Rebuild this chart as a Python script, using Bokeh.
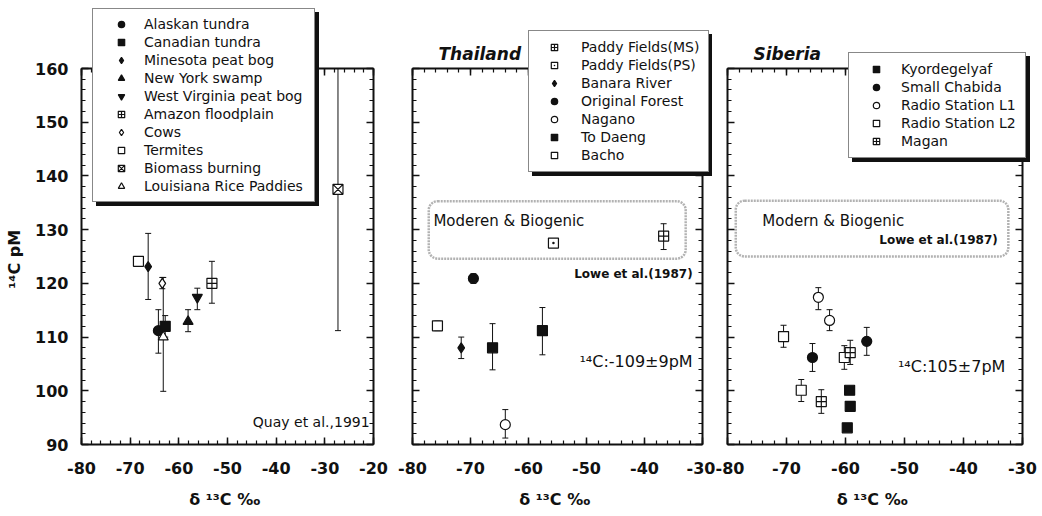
from bokeh.plotting import figure
from bokeh.models import (Whisker, ColumnDataSource, Legend, LegendItem, LinearAxis,
                          SingleIntervalTicker, Range1d, BoxAnnotation, Label,
                          CustomJSTickFormatter, TeeHead, GridBox)
from bokeh.embed import file_html
from bokeh.resources import INLINE

# ---------------- data ----------------
# Panel 1: Quay et al., 1991
quay_series = ["Alaskan tundra", "Canadian tundra", "Minesota peat bog", "New York swamp",
               "West Virginia peat bog", "Amazon floodplain", "Cows", "Termites",
               "Biomass burning", "Louisiana Rice Paddies"]
quay_point_series = ["Termites", "Louisiana Rice Paddies", "Cows", "Minesota peat bog",
                     "Alaskan tundra", "Canadian tundra", "New York swamp",
                     "West Virginia peat bog", "Amazon floodplain", "Biomass burning"]
quay_d13c = [-68.3, -63.2, -63.4, -66.3, -64.2, -62.8, -58.1, -56.2, -53.2, -27.3]
quay_c14 = [124.1, 110.0, 120.0, 123.1, 111.2, 112.0, 112.9, 117.4, 120.0, 137.5]
quay_c14_low = [124.1, 99.9, 119.0, 117.0, 107.0, 110.0, 111.0, 115.1, 116.3, 111.2]
quay_c14_high = [124.1, 121.1, 121.1, 129.3, 115.1, 114.0, 115.1, 119.1, 124.1, 164.0]

# Panel 2: Thailand
thai_series = ["Paddy Fields(MS)", "Paddy Fields(PS)", "Banara River", "Original Forest",
               "Nagano", "To Daeng", "Bacho"]
thai_point_series = ["Paddy Fields(MS)", "Paddy Fields(PS)", "Banara River", "Original Forest",
                     "Nagano", "To Daeng", "To Daeng", "Bacho"]
thai_d13c = [-36.7, -55.7, -71.6, -69.5, -64.0, -66.2, -57.6, -75.7]
thai_c14 = [128.8, 127.5, 108.0, 120.9, 93.7, 108.0, 111.2, 112.1]
thai_c14_low = [126.3, 127.5, 106.0, 120.0, 91.2, 103.9, 106.7, 111.2]
thai_c14_high = [131.1, 127.5, 110.0, 121.8, 96.5, 112.5, 115.5, 113.0]

# Panel 3: Siberia
sib_series = ["Kyordegelyaf", "Small Chabida", "Radio Station L1", "Radio Station L2", "Magan"]
sib_point_series = ["Radio Station L2", "Radio Station L2", "Radio Station L2",
                    "Radio Station L1", "Radio Station L1", "Magan", "Magan",
                    "Small Chabida", "Small Chabida",
                    "Kyordegelyaf", "Kyordegelyaf", "Kyordegelyaf"]
sib_d13c = [-70.5, -67.5, -60.2, -64.6, -62.7, -59.2, -64.1, -65.6, -56.4, -59.3, -59.2, -59.7]
sib_c14 = [110.1, 100.1, 106.2, 117.4, 113.1, 107.1, 98.0, 106.2, 109.2, 100.1, 97.1, 93.1]
sib_c14_low = [108.1, 98.0, 104.0, 115.1, 111.2, 104.9, 95.8, 103.6, 106.6, 100.1, 97.1, 93.1]
sib_c14_high = [112.2, 102.1, 108.4, 119.2, 115.1, 109.4, 100.2, 108.8, 111.8, 100.1, 97.1, 93.1]

# ---------------- styles ----------------
INK = "#111111"
FONT = "DejaVu Sans"
MARKERS = {
    "Alaskan tundra": ("circle", True), "Canadian tundra": ("square", True),
    "Minesota peat bog": ("diamond", True), "New York swamp": ("triangle", True),
    "West Virginia peat bog": ("inverted_triangle", True),
    "Amazon floodplain": ("square_cross", False), "Cows": ("diamond", False),
    "Termites": ("square", False), "Biomass burning": ("square_x", False),
    "Louisiana Rice Paddies": ("triangle", False),
    "Paddy Fields(MS)": ("square_cross", False), "Paddy Fields(PS)": ("square_dot", False),
    "Banara River": ("diamond", True), "Original Forest": ("circle", True),
    "Nagano": ("circle", False), "To Daeng": ("square", True), "Bacho": ("square", False),
    "Kyordegelyaf": ("square", True), "Small Chabida": ("circle", True),
    "Radio Station L1": ("circle", False), "Radio Station L2": ("square", False),
    "Magan": ("square_cross", False),
}
H = 516
BT, BB = 68, 72          # top / bottom borders (frame from y=68 to y=444)


def style_axis(ax, show_labels):
    ax.ticker = SingleIntervalTicker(interval=10, num_minor_ticks=5)
    ax.axis_line_width = 2
    ax.axis_line_color = INK
    ax.major_tick_in = 7
    ax.major_tick_out = 0
    ax.minor_tick_in = 4
    ax.minor_tick_out = 0
    ax.major_tick_line_color = INK
    ax.minor_tick_line_color = INK
    ax.major_tick_line_width = 1.5
    ax.minor_tick_line_width = 1.2
    ax.major_label_text_font = FONT
    ax.major_label_text_font_size = "16px"
    ax.major_label_text_font_style = "bold"
    ax.major_label_text_color = INK
    if show_labels:
        ax.formatter = CustomJSTickFormatter(code="return Math.round(tick).toString()")
        ax.major_label_standoff = 13
    else:
        ax.formatter = CustomJSTickFormatter(code="return ''")
        ax.major_label_standoff = 0


def make_fig(width, bl, br, x_end, show_y_labels, title_text=None, title_offset=0):
    p = figure(width=width, height=H, x_range=Range1d(-80, x_end), y_range=Range1d(90, 160),
               output_backend="svg", toolbar_location=None,
               min_border_left=bl, min_border_right=br, min_border_top=BT, min_border_bottom=BB,
               background_fill_color="white", border_fill_color="white", outline_line_color=None)
    p.grid.visible = False
    style_axis(p.xaxis[0], True)
    p.xaxis[0].major_label_standoff = 17
    style_axis(p.yaxis[0], show_y_labels)
    p.xaxis.axis_label = "δ ¹³C  ‰"
    p.xaxis.axis_label_text_font = FONT
    p.xaxis.axis_label_text_font_size = "16px"
    p.xaxis.axis_label_text_font_style = "bold"
    p.xaxis.axis_label_text_color = INK
    p.xaxis.axis_label_standoff = 13
    if show_y_labels:
        p.yaxis.axis_label = "¹⁴C  pM"
        p.yaxis.axis_label_text_font = FONT
        p.yaxis.axis_label_text_font_size = "16px"
        p.yaxis.axis_label_text_font_style = "bold"
        p.yaxis.axis_label_text_color = INK
        p.yaxis.axis_label_standoff = 8
    for side in ("right", "above"):
        ax = LinearAxis()
        style_axis(ax, False)
        p.add_layout(ax, side)
    if title_text:
        p.title.text = title_text
        p.title.text_font = FONT
        p.title.text_font_size = "17px"
        p.title.text_font_style = "bold italic"
        p.title.text_color = INK
        p.title.align = "left"
        p.title.offset = title_offset
        p.title.standoff = 9
    return p


def draw_points(p, series, point_series, xs, ys, lows, highs):
    wx, wl, wh = [], [], []
    for s, x, lo, hi in zip(point_series, xs, lows, highs):
        if hi > lo:
            wx.append(x); wl.append(lo); wh.append(hi)
    wsrc = ColumnDataSource(dict(x=wx, lo=wl, hi=wh))
    w = Whisker(base="x", lower="lo", upper="hi", source=wsrc, dimension="height",
                line_color=INK, line_width=1, level="underlay",
                upper_head=TeeHead(size=6, line_color=INK, line_width=1),
                lower_head=TeeHead(size=6, line_color=INK, line_width=1))
    p.add_layout(w)
    for s in series:
        sx = [x for n, x in zip(point_series, xs) if n == s]
        sy = [y for n, y in zip(point_series, ys) if n == s]
        marker, filled = MARKERS[s]
        p.scatter(sx, sy, marker=marker, size=10, line_color=INK, line_width=1.2,
                  fill_color=INK if filled else "white")


def legend_layer(width, bl, br, series, point_series, xs, ys, shift_x, shift_y,
                 vx, vy, padding, glyph_width, standoff, label_w):
    """Transparent overlay canvas, shifted with CSS, carrying the boxed legend that
    overlaps the top edge of the frame in the original figure, plus its drop shadow."""
    q = figure(width=width, height=H, x_range=Range1d(-80, -20), y_range=Range1d(90, 160),
               x_axis_type=None, y_axis_type=None, output_backend="svg", toolbar_location=None,
               min_border_left=bl, min_border_right=br, min_border_top=BT, min_border_bottom=BB,
               outline_line_color=None, background_fill_color=None, border_fill_color=None)
    q.grid.visible = False
    renderers = []
    for s in series:
        sx = [x for n, x in zip(point_series, xs) if n == s]
        sy = [y for n, y in zip(point_series, ys) if n == s]
        marker, filled = MARKERS[s]
        r = q.scatter(sx, sy, marker=marker, size=10, line_color=INK, line_width=1.2,
                      fill_color=INK if filled else "white")
        r.visible = False
        renderers.append((s, r))
    common = dict(padding=padding, spacing=2, label_height=16, label_width=label_w,
                  glyph_height=16, glyph_width=glyph_width, label_standoff=standoff,
                  margin=0, label_text_font=FONT, label_text_font_size="14px")
    # drop shadow: an identically sized box, offset 4 px right and down
    shadow = Legend(items=[LegendItem(label=" ", renderers=[r]) for s, r in renderers],
                    location=(vx + 4, vy - 4), background_fill_color=INK,
                    background_fill_alpha=1, border_line_color=INK, border_line_width=1.5,
                    label_text_color=INK, **common)
    leg = Legend(items=[LegendItem(label=s, renderers=[r]) for s, r in renderers],
                 location=(vx, vy), background_fill_color="white",
                 background_fill_alpha=1, border_line_color=INK, border_line_width=1.5,
                 label_text_color=INK, **common)
    q.add_layout(shadow)
    q.add_layout(leg)
    q.styles = {"transform": f"translate({shift_x}px, {shift_y}px)", "pointer-events": "none"}
    return q


def dotted_box(p, left, right, top, bottom):
    kw = dict(left=left, right=right, top=top, bottom=bottom, fill_alpha=0,
              line_color="#000000", line_width=2.5, line_dash="2 1")
    try:
        b = BoxAnnotation(border_radius=9, **kw)
    except Exception:
        b = BoxAnnotation(**kw)
    p.add_layout(b)


def text(p, x, y, t, size, align="left", style="normal"):
    p.add_layout(Label(x=x, y=y, text=t, text_font=FONT, text_font_size=size,
                       text_font_style=style, text_color=INK, text_align=align,
                       text_baseline="middle"))


W1, W2, W3 = 394, 321, 327

# ---------------- Panel 1 ----------------
p1 = make_fig(W1, 81, 21, -20, True)
draw_points(p1, quay_series, quay_point_series, quay_d13c, quay_c14, quay_c14_low, quay_c14_high)
text(p1, -20.8, 94.1, "Quay et al.,1991", "14px", align="right")
l1 = legend_layer(W1, 81, 21, quay_series, quay_point_series, quay_d13c, quay_c14,
                  0, -60, 11, 182, 7, 42, 2, 163)

# ---------------- Panel 2 ----------------
p2 = make_fig(W2, 18, 13, -30, False, "Thailand", 26)
dotted_box(p2, -77.2, -32.9, 135.3, 124.6)
draw_points(p2, thai_series, thai_point_series, thai_d13c, thai_c14, thai_c14_low, thai_c14_high)
text(p2, -76.4, 131.6, "Moderen & Biogenic", "15px")
text(p2, -31.7, 121.8, "Lowe et al.(1987)", "12px", align="right", style="bold")
text(p2, -31.7, 105.4, "¹⁴C:-109±9pM", "16px", align="right")
l2 = legend_layer(W2, 18, 13, thai_series, thai_point_series, thai_d13c, thai_c14,
                  10, -60, 106, 212, 8, 34, 10, 119)

# ---------------- Panel 3 ----------------
p3 = make_fig(W3, 12, 20, -30, False, "Siberia", 26)
dotted_box(p3, -78.6, -32.4, 135.4, 125.0)
draw_points(p3, sib_series, sib_point_series, sib_d13c, sib_c14, sib_c14_low, sib_c14_high)
text(p3, -74.1, 131.7, "Modern & Biogenic", "15px")
text(p3, -34.2, 128.0, "Lowe et al.(1987)", "12px", align="right", style="bold")
text(p3, -32.9, 104.5, "¹⁴C:105±7pM", "16px", align="right")
l3 = legend_layer(W3, 12, 20, sib_series, sib_point_series, sib_d13c, sib_c14,
                  8, -60, 113, 226, 8, 38, 6, 116)

layout = GridBox(children=[(p1, 0, 0), (p2, 0, 1), (p3, 0, 2),
                           (l1, 0, 0), (l2, 0, 1), (l3, 0, 2)])
open("out.html", "w").write(file_html(layout, INLINE))
